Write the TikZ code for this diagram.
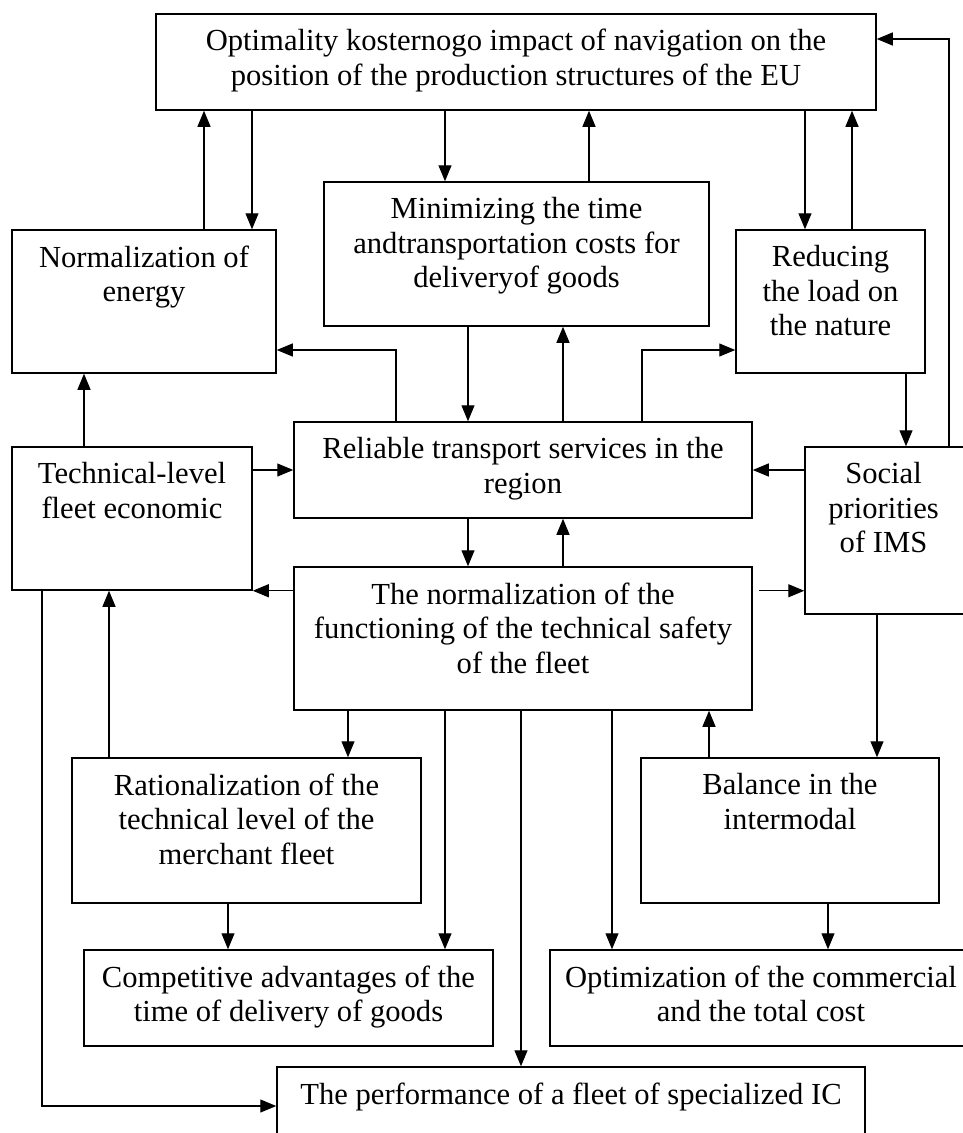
\documentclass[tikz,border=0pt]{standalone}
\usepackage{fontspec}
\setmainfont{Liberation Serif}
\usetikzlibrary{arrows.meta}

\begin{document}
\begin{tikzpicture}[x=1pt, y=-1pt,
	caja/.style={draw, line width=1.5pt, inner sep=0pt},
	texto/.style={anchor=north, align=center, inner sep=0pt, font=\fontsize{30.6}{34.5}\selectfont},
	flecha/.style={line width=1.2pt, -{Triangle[length=16pt,width=13pt]}}]
	
	% Fondo y margenes
	\path[fill=white, use as bounding box] (0,0) rectangle (962,1133);
	
	% Cajas
	\node[caja, minimum width=720, minimum height=96] (opt) at (516,62) {};
	\node[caja, minimum width=264, minimum height=143] (norm) at (144,301.5) {};
	\node[caja, minimum width=385, minimum height=144] (minim) at (516.5,254) {};
	\node[caja, minimum width=189, minimum height=143] (reduc) at (830.5,301.5) {};
	\node[caja, minimum width=458, minimum height=96] (fiab) at (523,470) {};
	\node[caja, minimum width=240, minimum height=143] (tec) at (132,518.5) {};
	\node[caja, minimum width=195, minimum height=167] (social) at (902.5,530.5) {};
	\node[caja, minimum width=460, minimum height=96] (optim) at (780,998) {};
	\node[caja, minimum width=458, minimum height=143] (func) at (523,638.5) {};
	\node[caja, minimum width=349, minimum height=145] (racio) at (246.5,830.5) {};
	\node[caja, minimum width=298, minimum height=145] (balance) at (790,830.5) {};
	\node[caja, minimum width=409, minimum height=96] (compet) at (288.5,998) {};
	\node[caja, minimum width=588, minimum height=96] (rend) at (571,1115) {};
	
	% Textos
	\node[texto] (opt-t) at ([yshift=-16]opt.north) {Optimality kosternogo impact of navigation on the\\position of the production structures of the EU};
	\node[texto] (norm-t) at ([yshift=-16]norm.north) {Normalization of\\energy};
	\node[texto] (minim-t) at ([yshift=-16]minim.north) {Minimizing the time\\andtransportation costs for\\deliveryof goods};
	\node[texto] (reduc-t) at ([yshift=-16]reduc.north) {Reducing\\the load on\\the nature};
	\node[texto] (fiab-t) at ([yshift=-16]fiab.north) {Reliable transport services in the\\region};
	\node[texto] (tec-t) at ([yshift=-16]tec.north) {Technical-level\\fleet economic};
	\node[texto] (social-t) at ([yshift=-16, xshift=-19]social.north) {Social\\priorities\\of IMS};
	\node[texto] (func-t) at ([yshift=-16]func.north) {The normalization of the\\functioning of the technical safety\\of the fleet};
	\node[texto] (racio-t) at ([yshift=-16]racio.north) {Rationalization of the\\technical level of the\\merchant fleet};
	\node[texto] (balance-t) at ([yshift=-16]balance.north) {Balance in the\\intermodal};
	\node[texto] (compet-t) at ([yshift=-16]compet.north) {Competitive advantages of the\\time of delivery of goods};
	\node[texto] (optim-t) at ([yshift=-16, xshift=-19]optim.north) {Optimization of the commercial\\and the total cost};
	\node[texto] (rend-t) at ([yshift=-16]rend.north) {The performance of a fleet of specialized IC};
	
	% Enlaces con la caja superior
	\draw[flecha] (norm.north -| 204,0) -- (opt.south -| 204,0);
	\draw[flecha] (opt.south -| 252,0) -- (norm.north -| 252,0);
	\draw[flecha] (opt.south -| 445,0) -- (minim.north -| 445,0);
	\draw[flecha] (minim.north -| 589,0) -- (opt.south -| 589,0);
	\draw[flecha] (opt.south -| 805,0) -- (reduc.north -| 805,0);
	\draw[flecha] (reduc.north -| 852,0) -- (opt.south -| 852,0);
	\draw[flecha] (social.north -| 949,0) |- ([yshift=23]opt.east);
	
	% Enlaces del segundo nivel
	\draw[flecha] (fiab.north -| 396,0) |- ([yshift=-48.5]norm.east);
	\draw[flecha] (minim.south -| 468,0) -- (fiab.north -| 468,0);
	\draw[flecha] (fiab.north -| 563,0) -- (minim.south -| 563,0);
	\draw[flecha] (fiab.north -| 642,0) |- ([yshift=-48.5]reduc.west);
	\draw[flecha] (reduc.south -| 906,0) -- (social.north -| 906,0);
	\draw[flecha] (tec.north -| 84,0) -- (norm.south -| 84,0);
	\draw[flecha] (tec.east |- fiab.west) -- (fiab.west);
	\draw[flecha] (social.west |- fiab.east) -- (fiab.east);
	
	% Enlaces del nivel central
	\draw[flecha] (fiab.south -| 468,0) -- (func.north -| 468,0);
	\draw[flecha] (func.north -| 563,0) -- (fiab.south -| 563,0);
	\draw[flecha] (func.west |- tec.south east) -- (tec.south east);
	\draw[flecha, shorten <=6pt] (func.east |- tec.south) -- (social.west |- tec.south);
	\draw[flecha] (tec.south -| 42,0) |- ([yshift=9]rend.west);
	\draw[flecha] (racio.north -| 109,0) -- (tec.south -| 109,0);
	
	% Enlaces hacia abajo
	\draw[flecha] (func.south -| 348,0) -- (racio.north -| 348,0);
	\draw[flecha] (func.south -| 445,0) -- (compet.north -| 445,0);
	\draw[flecha] (func.south -| 521,0) -- (rend.north -| 521,0);
	\draw[flecha] (func.south -| 612,0) -- (optim.north -| 612,0);
	\draw[flecha] (balance.north -| 709,0) -- (func.south -| 709,0);
	\draw[flecha] (social.south -| 877,0) -- (balance.north -| 877,0);
	\draw[flecha] (racio.south -| 228,0) -- (compet.north -| 228,0);
	\draw[flecha] (balance.south -| 828,0) -- (optim.north -| 828,0);
\end{tikzpicture}
\end{document}
